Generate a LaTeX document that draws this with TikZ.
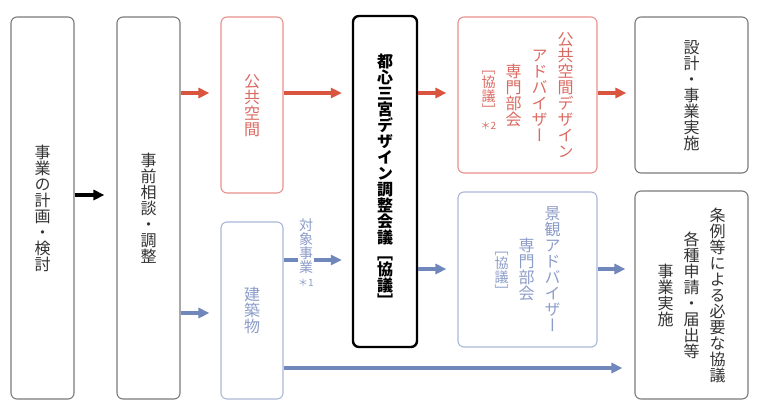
\documentclass[tikz,border=0pt]{standalone}
\usepackage{fontspec}
\setmainfont{Noto Sans CJK JP}
\newfontfamily\tatef{Noto Sans CJK JP}[RawFeature=+vert]
\newfontfamily\yoko{Noto Sans CJK JP}
\usetikzlibrary{arrows.meta}
\definecolor{cred}{HTML}{D9553F}
\definecolor{credbox}{HTML}{E8908C}
\definecolor{credtxt}{HTML}{DB6A62}
\definecolor{cblue}{HTML}{6F87BA}
\definecolor{cbluebox}{HTML}{A9B8D8}
\definecolor{cbluetxt}{HTML}{8C9DC9}
\definecolor{cgray}{HTML}{7A7A7A}
\definecolor{ctxt}{HTML}{333333}
% vertical column helpers
\newcommand\vcell[1]{\hbox to 1em{\hss\vrule height .88em depth .12em width 0pt\relax#1\hss}}
\def\vloop#1{\ifx\vend#1\else\vcell{#1}\expandafter\vloop\fi}
\def\vcol#1{\vbox{\offinterlineskip\vloop#1\vend}}
\def\VC#1{$\vcenter{\vcol{#1}}$}
\def\smallsize{\fontsize{14}{14}\selectfont}
\newcommand\asttwo{\hbox{\yoko\fontsize{10}{10}\selectfont ＊2}}
\newcommand\astone{\hbox{\yoko\fontsize{10}{10}\selectfont ＊1}}
\begin{document}
\begin{tikzpicture}[x=1pt,y=-1pt,
  tbox/.style={rounded corners=6pt, line width=1.1pt, inner sep=0pt,
    font=\tatef\fontsize{16}{16}\selectfont},
  graybox/.style={tbox, draw=cgray, text=ctxt},
  redbox/.style={tbox, draw=credbox, text=credtxt},
  bluebox/.style={tbox, draw=cbluebox, text=cbluetxt},
  arr/.style={line width=3.5pt, -{Triangle[length=11pt,width=10pt]}},
  blkarr/.style={arr, draw=black},
  redarr/.style={arr, draw=cred},
  bluearr/.style={arr, draw=cblue, line width=3.2pt}
]
\fill[white] (0,0) rectangle (760,418);
% boxes
\node[graybox, minimum width=63pt, minimum height=382pt] (b1) at (42.5,208) {\VC{事業の計画・検討}};
\node[graybox, minimum width=63pt, minimum height=382pt] (b2) at (148.5,208) {\VC{事前相談・調整}};
\node[redbox, minimum width=62pt, minimum height=176pt] (kokyo) at (252,105) {\VC{公共空間}};
\node[bluebox, minimum width=62pt, minimum height=177pt] (kenchiku) at (252,310.5) {\VC{建築物}};
\node[tbox, draw=black, line width=2.4pt, text=black, minimum width=64pt, minimum height=331pt,
  font=\tatef\bfseries\fontsize{16}{16}\selectfont] (center) at (385,181.5) {\VC{都心三宮デザイン調整会議［協議］}};
\node[redbox, minimum width=139pt, minimum height=156pt] (kdesign) at (527.5,95)
  {{\smallsize\VC{［協議］\asttwo}}\hskip 10pt\VC{専門部会}\hskip 10pt\VC{アドバイザー}\hskip 10pt\VC{公共空間デザイン}};
\node[bluebox, minimum width=139pt, minimum height=155pt] (keikan) at (527.5,269.5)
  {{\smallsize\VC{［協議］}}\hskip 10pt\VC{専門部会}\hskip 10pt\VC{景観アドバイザー}};
\node[graybox, minimum width=113pt, minimum height=156pt] (sekkei) at (691.5,95) {\VC{設計・事業実施}};
\node[graybox, minimum width=113pt, minimum height=208pt] (jorei) at (691.5,295)
  {\VC{事業実施}\hskip 10pt\VC{各種申請・届出等}\hskip 10pt\VC{条例等による必要な協議}};
% arrows
\draw[blkarr] (b1.east |- 0,195) -- ([xshift=-12pt]b2.west |- 0,195);
\draw[redarr] (b2.east |- 0,93) -- ([xshift=-11pt]kokyo.west |- 0,93);
\draw[redarr] (kokyo.east |- 0,93) -- ([xshift=-10pt]center.west |- 0,93);
\draw[redarr] (center.east |- 0,93) -- ([xshift=-11pt]kdesign.west |- 0,93);
\draw[redarr] (kdesign.east |- 0,93) -- ([xshift=-8pt]sekkei.west |- 0,93);
\draw[bluearr] (b2.east |- 0,313) -- ([xshift=-11pt]kenchiku.west |- 0,313);
\draw[bluearr] (kenchiku.east |- 0,260) -- ([xshift=-10pt]center.west |- 0,260);
\draw[bluearr] (center.east |- 0,269) -- ([xshift=-11pt]keikan.west |- 0,269);
\draw[bluearr] (keikan.east |- 0,269) -- ([xshift=-9pt]jorei.west |- 0,269);
\draw[bluearr] (kenchiku.east |- 0,368) -- ([xshift=-12pt]jorei.west |- 0,368);
% label on arrow
\node[fill=white, inner sep=1pt, text=cbluetxt, font=\tatef\fontsize{14}{14}\selectfont] (taisho) at (306,253)
  {\VC{対象事業\astone}};
\end{tikzpicture}
\end{document}
